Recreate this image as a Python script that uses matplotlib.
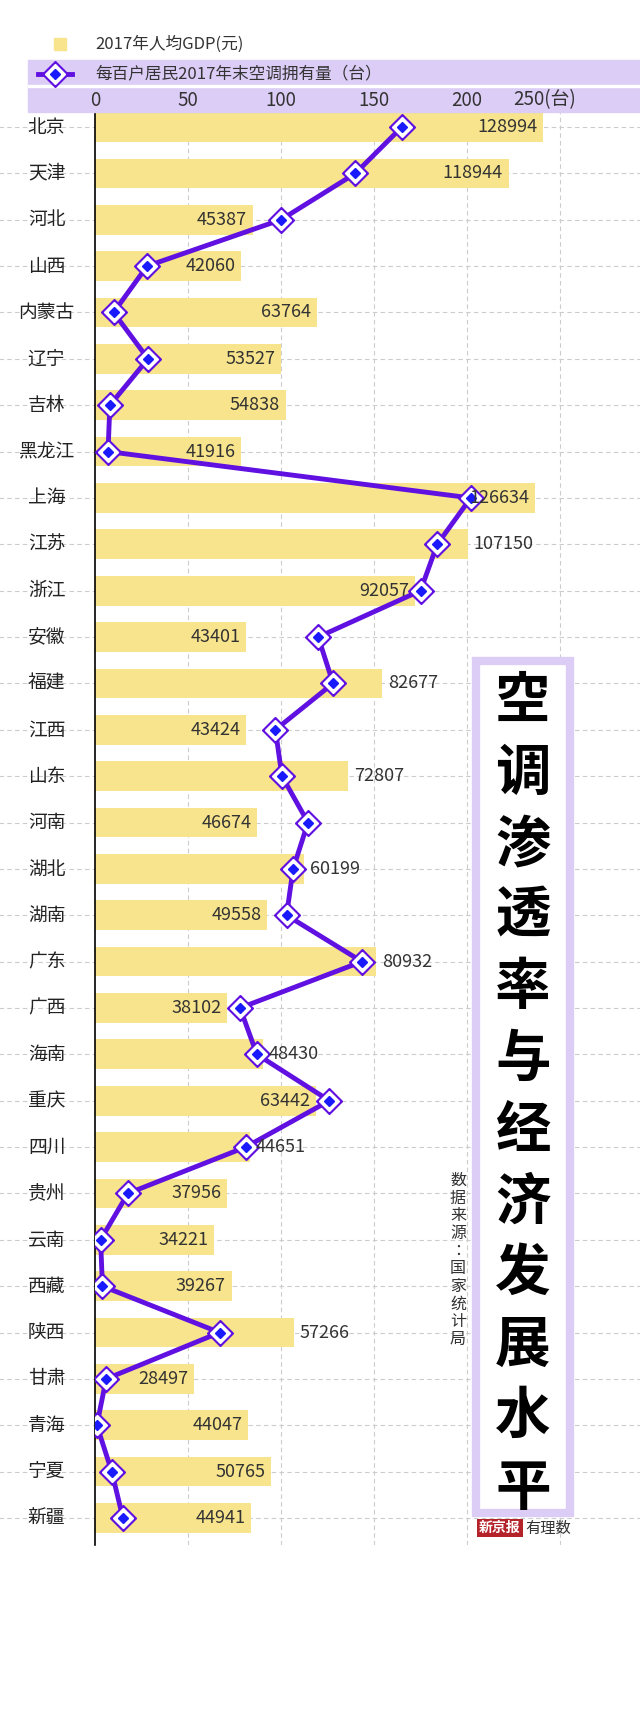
import matplotlib
matplotlib.use("Agg")
import matplotlib.pyplot as plt
from matplotlib import font_manager
from matplotlib.patches import Rectangle

# pick an installed CJK sans font
cjk = [f.name for f in font_manager.fontManager.ttflist if "CJK" in f.name and "Sans" in f.name]
sc = [n for n in cjk if "SC" in n]
plt.rcParams["font.family"] = (sc or cjk or ["DejaVu Sans"])[0]

provinces = ["北京", "天津", "河北", "山西", "内蒙古", "辽宁", "吉林", "黑龙江", "上海", "江苏",
             "浙江", "安徽", "福建", "江西", "山东", "河南", "湖北", "湖南", "广东", "广西",
             "海南", "重庆", "四川", "贵州", "云南", "西藏", "陕西", "甘肃", "青海", "宁夏", "新疆"]
gdp = [128994, 118944, 45387, 42060, 63764, 53527, 54838, 41916, 126634, 107150,
       92057, 43401, 82677, 43424, 72807, 46674, 60199, 49558, 80932, 38102,
       48430, 63442, 44651, 37956, 34221, 39267, 57266, 28497, 44047, 50765, 44941]
ac_units = [165, 140, 100, 28, 10, 28.5, 8, 7, 202, 184,
            175, 120, 128, 97, 100.5, 114.5, 106.5, 103, 143.5, 78,
            87, 126, 81, 17.7, 3, 4, 67, 6, 1, 9, 15]
label_outside = ["江苏", "福建", "山东", "湖北", "广东", "海南", "四川", "陕西"]
xticks = [0, 50, 100, 150, 200]

W, H = 640, 1726
fig = plt.figure(figsize=(W / 100, H / 100), dpi=100)

n = len(provinces)
row_h = (1518 - 127) / (n - 1)
top_px, bot_px = 108, 1545
ax = fig.add_axes([95 / W, 1 - bot_px / H, (W - 95) / W, (bot_px - top_px) / H])
scale = 1.86  # px per unit
ax.set_xlim(0, (W - 95) / scale)
ax.set_ylim((bot_px - 127) / row_h, -(127 - top_px) / row_h)

ys = list(range(n))
bar_vals = [g / 535.0 for g in gdp]

for x in [50, 100, 150, 200, 250]:
    ax.axvline(x, color="#cccccc", lw=0.8, ls=(0, (4, 3)), zorder=0)
for y in ys:
    ax.plot([-60, 400], [y, y], color="#cccccc", lw=0.8, ls=(0, (4, 3)), zorder=0, clip_on=False)

ax.barh(ys, bar_vals, height=0.64, color="#f7e48c", zorder=1)
ax.plot(ac_units, ys, color="#6010e0", lw=3.5, zorder=3)
ax.plot(ac_units, ys, ls="none", marker="D", ms=13, mfc="#6010e0", mec="#6010e0", zorder=4)
ax.plot(ac_units, ys, ls="none", marker="D", ms=10, mfc="white", mec="white", zorder=5)
ax.plot(ac_units, ys, ls="none", marker="D", ms=5.5, mfc="#1a1aff", mec="#1a1aff", zorder=6)

for y, p, b, g in zip(ys, provinces, bar_vals, gdp):
    if p in label_outside:
        ax.text(b + 3, y, str(g), ha="left", va="center", fontsize=13, color="#333333", zorder=7)
    else:
        ax.text(b - 3, y, str(g), ha="right", va="center", fontsize=13, color="#333333", zorder=7)
    ax.text(-26, y, p, ha="center", va="center", fontsize=13.5, color="#222222", clip_on=False)

for s in ["top", "right", "bottom"]:
    ax.spines[s].set_visible(False)
ax.spines["left"].set_linewidth(1.2)
ax.set_xticks([])
ax.set_yticks([])

# header band
fig.patches.append(Rectangle((28 / W, 1 - 112 / H), (W - 28) / W, 52 / H,
                             transform=fig.transFigure, color="#dccdf7", zorder=0))
fig.patches.append(Rectangle((28 / W, 1 - 87 / H), (W - 28) / W, 2 / H,
                             transform=fig.transFigure, color="white", zorder=1))
fig.patches.append(Rectangle((54 / W, 1 - 50 / H), 12 / W, 12 / H,
                             transform=fig.transFigure, color="#f7e48c", zorder=1))
fig.text(95 / W, 1 - 44 / H, "2017年人均GDP(元)", fontsize=12, va="center", color="#333333")
lx = [38 / W, 72 / W]
ly = 1 - 74 / H
fig.add_artist(plt.Line2D(lx, [ly, ly], color="#6010e0", lw=3.5, transform=fig.transFigure))
fig.add_artist(plt.Line2D([55 / W], [ly], marker="D", ms=13, color="#6010e0", transform=fig.transFigure))
fig.add_artist(plt.Line2D([55 / W], [ly], marker="D", ms=10, color="white", transform=fig.transFigure))
fig.add_artist(plt.Line2D([55 / W], [ly], marker="D", ms=5.5, color="#1a1aff", transform=fig.transFigure))
fig.text(95 / W, ly, "每百户居民2017年末空调拥有量（台）", fontsize=12, va="center", color="#333333")
for t in xticks:
    fig.text((95 + t * scale) / W, 1 - 100 / H, str(t), fontsize=13.5, ha="center", va="center", color="#333333")
fig.text((95 + 250 * scale - 15) / W, 1 - 100 / H, "250(台)", fontsize=13.5, ha="center", va="center", color="#333333")

# title box
fig.patches.append(Rectangle((476 / W, 1 - 1513 / H), 94 / W, 852 / H, transform=fig.transFigure,
                             fill=True, facecolor="white", edgecolor="#dccdf7", lw=6, zorder=2))
title = "空调渗透率与经济发展水平"
for i, ch in enumerate(title):
    fig.text(523 / W, 1 - (702 + i * 71.5) / H, ch, fontsize=40, fontweight="bold",
             ha="center", va="center", color="black", zorder=3)
fig.text(458 / W, 1 - 1260 / H, "数\n据\n来\n源\n：\n国\n家\n统\n计\n局", fontsize=11.5,
         ha="center", va="center", color="#333333", linespacing=1.05)
fig.text(500 / W, 1 - 1528 / H, "新京报", fontsize=10, fontweight="bold", color="white",
         ha="center", va="center", bbox=dict(boxstyle="square,pad=0.15", fc="#b5232a", ec="none"))
fig.text(548 / W, 1 - 1528 / H, "有理数", fontsize=11, style="italic", color="#333333", ha="center", va="center")

fig.savefig("out.png", dpi=100)
